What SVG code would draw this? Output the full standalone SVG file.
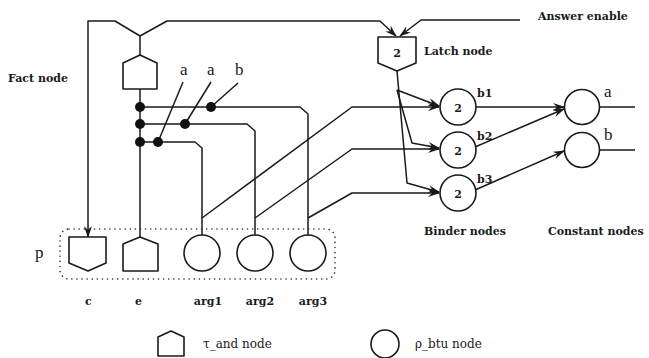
<svg xmlns="http://www.w3.org/2000/svg" width="649" height="358" viewBox="0 0 649 358">
<style>
.ln{fill:none;stroke:#1a1a1a;stroke-width:1.5;stroke-linejoin:round}
.nd{fill:#fff;stroke:#1a1a1a;stroke-width:1.6;stroke-linejoin:round}
.dot{fill:#111}
.lb{font-family:"DejaVu Serif","Liberation Serif",serif;font-weight:bold;font-size:11px;fill:#1a1a1a}
.lg{font-family:"DejaVu Serif","Liberation Serif",serif;font-size:12px;fill:#1a1a1a}
.sm{font-family:"Liberation Serif",serif;font-size:17px;fill:#1a1a1a}
.num{font-family:"DejaVu Serif","Liberation Serif",serif;font-weight:bold;font-size:11px;fill:#1a1a1a;text-anchor:middle}
</style>
<defs>
<marker id="ah" viewBox="0 0 12 8" refX="11" refY="4" markerWidth="12" markerHeight="8" markerUnits="userSpaceOnUse" orient="auto">
<path d="M0,0 L12,4 L0,8 L4,4 Z" fill="#1a1a1a"/>
</marker>
</defs>
<rect x="0" y="0" width="649" height="358" fill="#fff"/>

<g id="connectors">
<path class="ln" d="M140,55 L140,36 L115,21 L88,21 L88,237" marker-end="url(#ah)"/>
<path class="ln" d="M140,36 L167,21 L380,21 L396,36" marker-end="url(#ah)"/>
<path class="ln" d="M520,20 L421,20 L400,36" marker-end="url(#ah)"/>
<path class="ln" d="M140,89 L140,237"/>
<path class="ln" d="M140,107 L300,107 L308,114 L308,235"/>
<path class="ln" d="M140,124 L247,124 L255,131 L255,235"/>
<path class="ln" d="M140,142 L195,142 L202,148 L202,235"/>
<path class="ln" d="M158,142 L183,82"/>
<path class="ln" d="M185,124 L211,82"/>
<path class="ln" d="M211,107 L238,83"/>
<path class="ln" d="M202,218 L352,107 L439,107" marker-end="url(#ah)"/>
<path class="ln" d="M255,218 L352,149 L439,149" marker-end="url(#ah)"/>
<path class="ln" d="M308,218 L352,193 L439,193" marker-end="url(#ah)"/>
<path class="ln" d="M397,71 L407,183 L439,192" marker-end="url(#ah)"/>
<path class="ln" d="M397,90 L439,106" marker-end="url(#ah)"/>
<path class="ln" d="M397,90 L412,143 L439,148" marker-end="url(#ah)"/>
<path class="ln" d="M476,107 L564,107" marker-end="url(#ah)"/>
<path class="ln" d="M475,147 L564,109" marker-end="url(#ah)"/>
<path class="ln" d="M475,190 L564,151" marker-end="url(#ah)"/>
<path class="ln" d="M600,107 L635,107"/>
<path class="ln" d="M600,150 L635,150"/>
<circle class="dot" cx="140" cy="107" r="5"/>
<circle class="dot" cx="140" cy="124" r="5"/>
<circle class="dot" cx="140" cy="142" r="5"/>
<circle class="dot" cx="211" cy="107" r="5"/>
<circle class="dot" cx="185" cy="124" r="5"/>
<circle class="dot" cx="158" cy="142" r="5"/>
</g>

<g id="fact-node">
<path class="nd" d="M140,55 L157,63 L157,89 L123,89 L123,63 Z"/>
<text class="lb" x="8" y="82">Fact node</text>
</g>
<g id="var-labels">
<text class="sm" x="180" y="75">a</text>
<text class="sm" x="207" y="75">a</text>
<text class="sm" x="235" y="75">b</text>
</g>

<g id="latch-node">
<path class="nd" d="M378,37 L416,37 L416,63 L397,71 L378,63 Z"/>
<text class="num" x="397" y="57">2</text>
<text class="lb" x="424" y="55">Latch node</text>
</g>
<g id="answer-enable"><text class="lb" x="538" y="20">Answer enable</text></g>

<g id="p-group">
<rect x="60" y="229" width="275" height="50" rx="9" fill="none" stroke="#333" stroke-width="1.6" stroke-dasharray="0.1 5" stroke-linecap="round"/>
<text class="sm" x="35" y="258" font-size="20">p</text>
</g>
<g id="node-c">
<path class="nd" d="M69,237 L106,237 L106,263 L88,271 L69,263 Z"/>
<text class="lb" x="85" y="305">c</text>
</g>
<g id="node-e">
<path class="nd" d="M140,237 L158,244 L158,271 L123,271 L123,244 Z"/>
<text class="lb" x="135" y="305">e</text>
</g>
<g id="node-arg1">
<circle class="nd" cx="202" cy="253" r="18"/>
<text class="lb" x="208" y="305" text-anchor="middle">arg1</text>
</g>
<g id="node-arg2">
<circle class="nd" cx="255" cy="253" r="18"/>
<text class="lb" x="260" y="305" text-anchor="middle">arg2</text>
</g>
<g id="node-arg3">
<circle class="nd" cx="308" cy="253" r="18"/>
<text class="lb" x="313" y="305" text-anchor="middle">arg3</text>
</g>

<g id="binder-b1">
<circle class="nd" cx="458" cy="107" r="18"/>
<text class="num" x="458" y="112">2</text>
<text class="lb" x="477" y="97">b1</text>
</g>
<g id="binder-b2">
<circle class="nd" cx="458" cy="150" r="18"/>
<text class="num" x="458" y="155">2</text>
<text class="lb" x="477" y="140">b2</text>
</g>
<g id="binder-b3">
<circle class="nd" cx="458" cy="193" r="18"/>
<text class="num" x="458" y="198">2</text>
<text class="lb" x="477" y="183">b3</text>
</g>
<g id="binder-label"><text class="lb" x="424" y="235">Binder nodes</text></g>

<g id="const-a">
<circle class="nd" cx="582" cy="107" r="17.5"/>
<text class="sm" x="604" y="97">a</text>
</g>
<g id="const-b">
<circle class="nd" cx="582" cy="150" r="17.5"/>
<text class="sm" x="604" y="140">b</text>
</g>
<g id="const-label"><text class="lb" x="548" y="235">Constant nodes</text></g>

<g id="legend-and">
<path class="nd" d="M171,331 L184,337 L184,356 L158,356 L158,337 Z"/>
<text class="lg" x="203" y="348">τ_and node</text>
</g>
<g id="legend-btu">
<circle class="nd" cx="385" cy="344" r="14"/>
<text class="lg" x="415" y="348">ρ_btu node</text>
</g>
</svg>
